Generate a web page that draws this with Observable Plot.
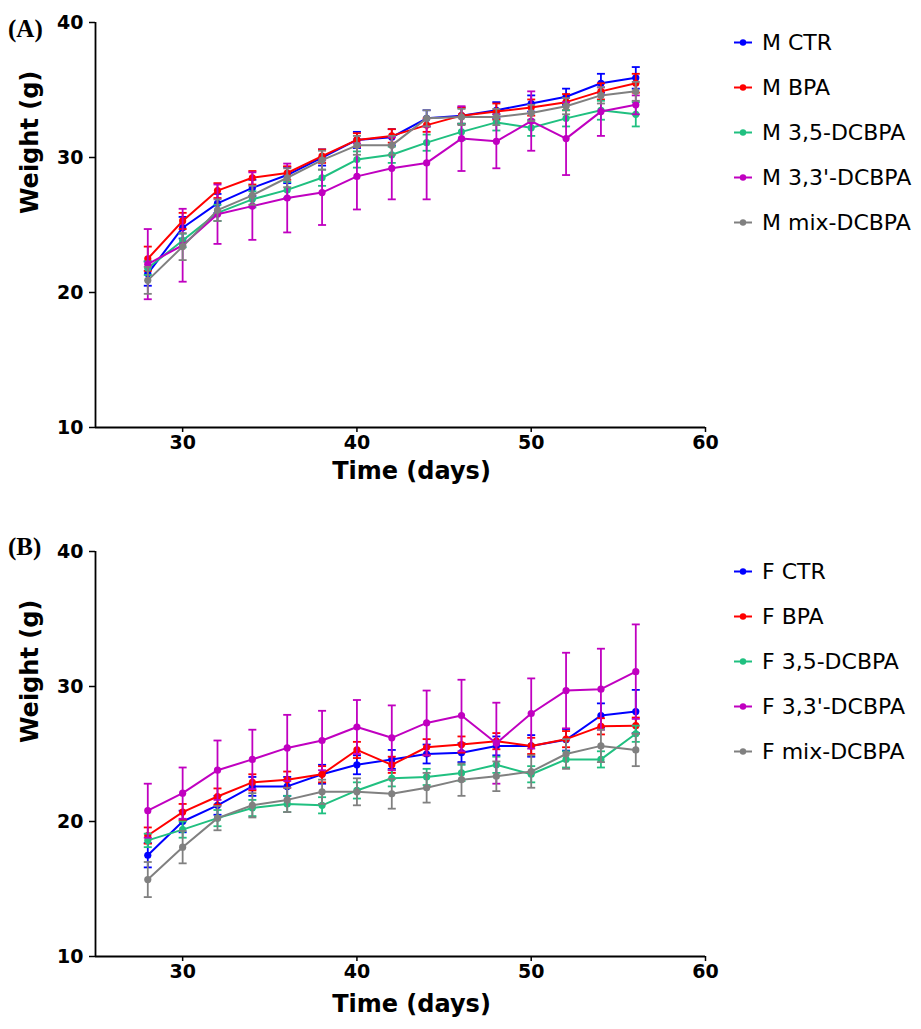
<!DOCTYPE html>
<html>
<head>
<meta charset="utf-8">
<script src="https://cdn.jsdelivr.net/npm/d3@7"></script>
<script src="https://cdn.jsdelivr.net/npm/@observablehq/plot@0.6"></script>
<style>
  html, body { margin: 0; padding: 0; background: #fff; }
  #root { position: relative; width: 921px; height: 1029px; overflow: hidden; }
  .panel { position: absolute; left: 0; width: 921px; }
  .tag { position: absolute; font-family: "Liberation Serif", serif; font-weight: bold; font-size: 25px; color: #000; }
  .legend { position: absolute; left: 733px; font-family: "DejaVu Sans", sans-serif; font-size: 22px; color: #000; }
  .item { position: absolute; left: 0; white-space: nowrap; display: flex; align-items: center; transform: translateY(-50%); }
  .item svg { margin-right: 9px; }
</style>
</head>
<body>
<div id="root"></div>
<script>
// ---------- data ----------
const days = [28, 30, 32, 34, 36, 38, 40, 42, 44, 46, 48, 50, 52, 54, 56];
const xTicks = [30, 40, 50, 60];
const yTicks = [10, 20, 30, 40];
const seriesColors = ["#0000ff", "#ff0000", "#20c080", "#c000c0", "#808080"];

// Panel A: males
const mNames = ["M CTR", "M BPA", "M 3,5-DCBPA", "M 3,3'-DCBPA", "M mix-DCBPA"];
const mCTR      = [21.4, 24.8, 26.6, 27.75, 28.7, 30.0, 31.3, 31.5, 32.9, 33.1, 33.5, 34.0, 34.5, 35.5, 35.9];
const mCTRsd    = [0.9, 0.8, 0.7, 0.6, 0.6, 0.6, 0.6, 0.6, 0.6, 0.6, 0.6, 0.6, 0.6, 0.7, 0.8];
const mBPA      = [22.5, 25.3, 27.55, 28.5, 28.85, 30.1, 31.3, 31.6, 32.4, 33.1, 33.4, 33.7, 34.1, 34.9, 35.5];
const mBPAsd    = [0.9, 0.6, 0.55, 0.5, 0.5, 0.5, 0.5, 0.5, 0.5, 0.6, 0.6, 0.6, 0.6, 0.6, 0.7];
const m35       = [21.8, 23.85, 25.9, 26.9, 27.6, 28.5, 29.85, 30.2, 31.1, 31.9, 32.6, 32.2, 32.9, 33.5, 33.2];
const m35sd     = [0.5, 0.5, 0.6, 0.6, 0.6, 0.6, 0.6, 0.6, 0.6, 0.6, 0.6, 0.6, 0.6, 0.7, 0.9];
const m33       = [22.1, 23.5, 25.8, 26.4, 27.0, 27.4, 28.6, 29.2, 29.6, 31.4, 31.2, 32.7, 31.4, 33.4, 33.9];
const m33sd     = [2.6, 2.7, 2.2, 2.5, 2.55, 2.4, 2.45, 2.3, 2.7, 2.4, 2.0, 2.2, 2.7, 1.8, 0.7];
const mMix      = [20.9, 23.4, 26.1, 27.2, 28.5, 29.8, 30.9, 30.9, 32.9, 33.0, 33.0, 33.3, 33.8, 34.6, 34.9];
const mMixsd    = [1.0, 1.0, 0.8, 0.7, 0.7, 0.7, 0.7, 0.7, 0.6, 0.6, 0.6, 0.6, 0.6, 0.6, 0.7];

// Panel B: females
const fNames = ["F CTR", "F BPA", "F 3,5-DCBPA", "F 3,3'-DCBPA", "F mix-DCBPA"];
const fCTR      = [17.5, 20.0, 21.2, 22.6, 22.6, 23.5, 24.2, 24.6, 25.0, 25.1, 25.6, 25.6, 26.05, 27.85, 28.15];
const fCTRsd    = [0.9, 0.8, 0.7, 0.7, 0.7, 0.7, 0.7, 0.7, 0.7, 0.7, 0.7, 0.8, 0.8, 0.9, 1.6];
const fBPA      = [18.96, 20.7, 21.85, 22.9, 23.1, 23.5, 25.3, 24.2, 25.5, 25.7, 25.95, 25.6, 26.1, 27.05, 27.1];
const fBPAsd    = [0.6, 0.6, 0.6, 0.6, 0.6, 0.6, 0.6, 0.6, 0.6, 0.6, 0.6, 0.6, 0.6, 0.6, 0.6];
const f35       = [18.6, 19.4, 20.25, 21.0, 21.3, 21.2, 22.3, 23.2, 23.3, 23.6, 24.2, 23.5, 24.6, 24.6, 26.5];
const f35sd     = [0.5, 0.6, 0.6, 0.6, 0.6, 0.6, 0.6, 0.6, 0.6, 0.6, 0.6, 0.6, 0.6, 0.6, 0.6];
const f33       = [20.8, 22.1, 23.8, 24.6, 25.45, 26.0, 27.0, 26.2, 27.3, 27.85, 25.8, 28.0, 29.7, 29.8, 31.1];
const f33sd     = [2.0, 1.9, 2.2, 2.2, 2.45, 2.2, 2.0, 2.4, 2.4, 2.65, 3.0, 2.6, 2.8, 3.0, 3.5];
const fMix      = [15.7, 18.1, 20.25, 21.2, 21.6, 22.2, 22.2, 22.05, 22.5, 23.1, 23.35, 23.7, 25.0, 25.6, 25.3];
const fMixsd    = [1.3, 1.2, 0.9, 0.9, 0.9, 0.9, 1.0, 1.1, 1.1, 1.2, 1.1, 1.2, 1.1, 1.2, 1.2];

// ---------- drawing ----------
const capSymbol = {
  draw(context, size) {
    const r = Math.sqrt(size / Math.PI);
    context.moveTo(-r, 0);
    context.lineTo(r, 0);
  }
};

function makePanel(names, values, sds, opts) {
  const marks = [
    Plot.ruleX([25], {stroke: "#000", strokeWidth: 1.8}),
    Plot.ruleY([10], {stroke: "#000", strokeWidth: 1.8}),
    Plot.axisX({ticks: xTicks, tickSize: 5, label: null, tickFormat: () => "", strokeWidth: 1.5}),
    Plot.axisY({ticks: yTicks, tickSize: 6, label: null, tickFormat: () => "", strokeWidth: 1.5}),
    Plot.text(xTicks, {x: d => d, frameAnchor: "bottom", lineAnchor: "top", dy: 8,
                fontSize: 19, fontWeight: "bold", fill: "#000", text: d => String(d)}),
    Plot.text(yTicks, {y: d => d, frameAnchor: "left", textAnchor: "end", dx: -12,
                fontSize: 19, fontWeight: "bold", fill: "#000", text: d => String(d)}),
    Plot.text(["Time (days)"], {frameAnchor: "bottom", dx: 11, dy: opts.xLabelDy,
                fontSize: 24, fontWeight: "bold", fill: "#000"}),
    Plot.text(["Weight (g)"], {frameAnchor: "left", rotate: -90, dx: -65, dy: -11,
                fontSize: 24, fontWeight: "bold", fill: "#000"})
  ];
  names.forEach((name, k) => {
    const rows = days.map((d, i) => ({day: d, w: values[k][i], sd: sds[k][i]}));
    const c = seriesColors[k];
    marks.push(
      Plot.link(rows, {x1: "day", x2: "day", y1: r => r.w - r.sd, y2: r => r.w + r.sd,
                       stroke: c, strokeWidth: 1.8}),
      Plot.dot(rows, {x: "day", y: r => r.w + r.sd, symbol: capSymbol, r: 4,
                      stroke: c, fill: "none", strokeWidth: 1.8}),
      Plot.dot(rows, {x: "day", y: r => r.w - r.sd, symbol: capSymbol, r: 4,
                      stroke: c, fill: "none", strokeWidth: 1.8}),
      Plot.line(rows, {x: "day", y: "w", stroke: c, strokeWidth: 2}),
      Plot.dot(rows, {x: "day", y: "w", r: 3.6, fill: c, stroke: "none"})
    );
  });
  return Plot.plot({
    width: 921,
    height: opts.height,
    marginTop: 22,
    marginLeft: 95,
    marginRight: 216,
    marginBottom: opts.marginBottom,
    x: {domain: [25, 60]},
    y: {domain: [10, 40]},
    style: {fontFamily: "'DejaVu Sans', sans-serif", color: "#000", background: "#fff", overflow: "visible"},
    marks
  });
}

function legend(names, top) {
  const div = document.createElement("div");
  div.className = "legend";
  div.style.top = top + "px";
  const offsets = [42, 87, 132, 177, 222];
  names.forEach((n, k) => {
    const it = document.createElement("div");
    it.className = "item";
    it.style.top = offsets[k] + "px";
    const c = seriesColors[k];
    it.innerHTML = `<svg width="20" height="10"><line x1="1" y1="5" x2="19" y2="5" stroke="${c}" stroke-width="2"/><circle cx="10" cy="5" r="3.2" fill="${c}"/></svg><span>${n}</span>`;
    div.appendChild(it);
  });
  return div;
}

const root = document.getElementById("root");

const pA = document.createElement("div");
pA.className = "panel"; pA.style.top = "0px";
pA.appendChild(makePanel(mNames, [mCTR, mBPA, m35, m33, mMix], [mCTRsd, mBPAsd, m35sd, m33sd, mMixsd],
  {height: 529, marginBottom: 102, xLabelDy: 51}));
root.appendChild(pA);

const pB = document.createElement("div");
pB.className = "panel"; pB.style.top = "529px";
pB.appendChild(makePanel(fNames, [fCTR, fBPA, f35, f33, fMix], [fCTRsd, fBPAsd, f35sd, f33sd, fMixsd],
  {height: 500, marginBottom: 73, xLabelDy: 55}));
root.appendChild(pB);

root.appendChild(legend(mNames, 0));
root.appendChild(legend(fNames, 529));

const tA = document.createElement("div");
tA.className = "tag"; tA.textContent = "(A)"; tA.style.left = "8px"; tA.style.top = "15px";
root.appendChild(tA);
const tB = document.createElement("div");
tB.className = "tag"; tB.textContent = "(B)"; tB.style.left = "8px"; tB.style.top = "533px";
root.appendChild(tB);
</script>
</body>
</html>
